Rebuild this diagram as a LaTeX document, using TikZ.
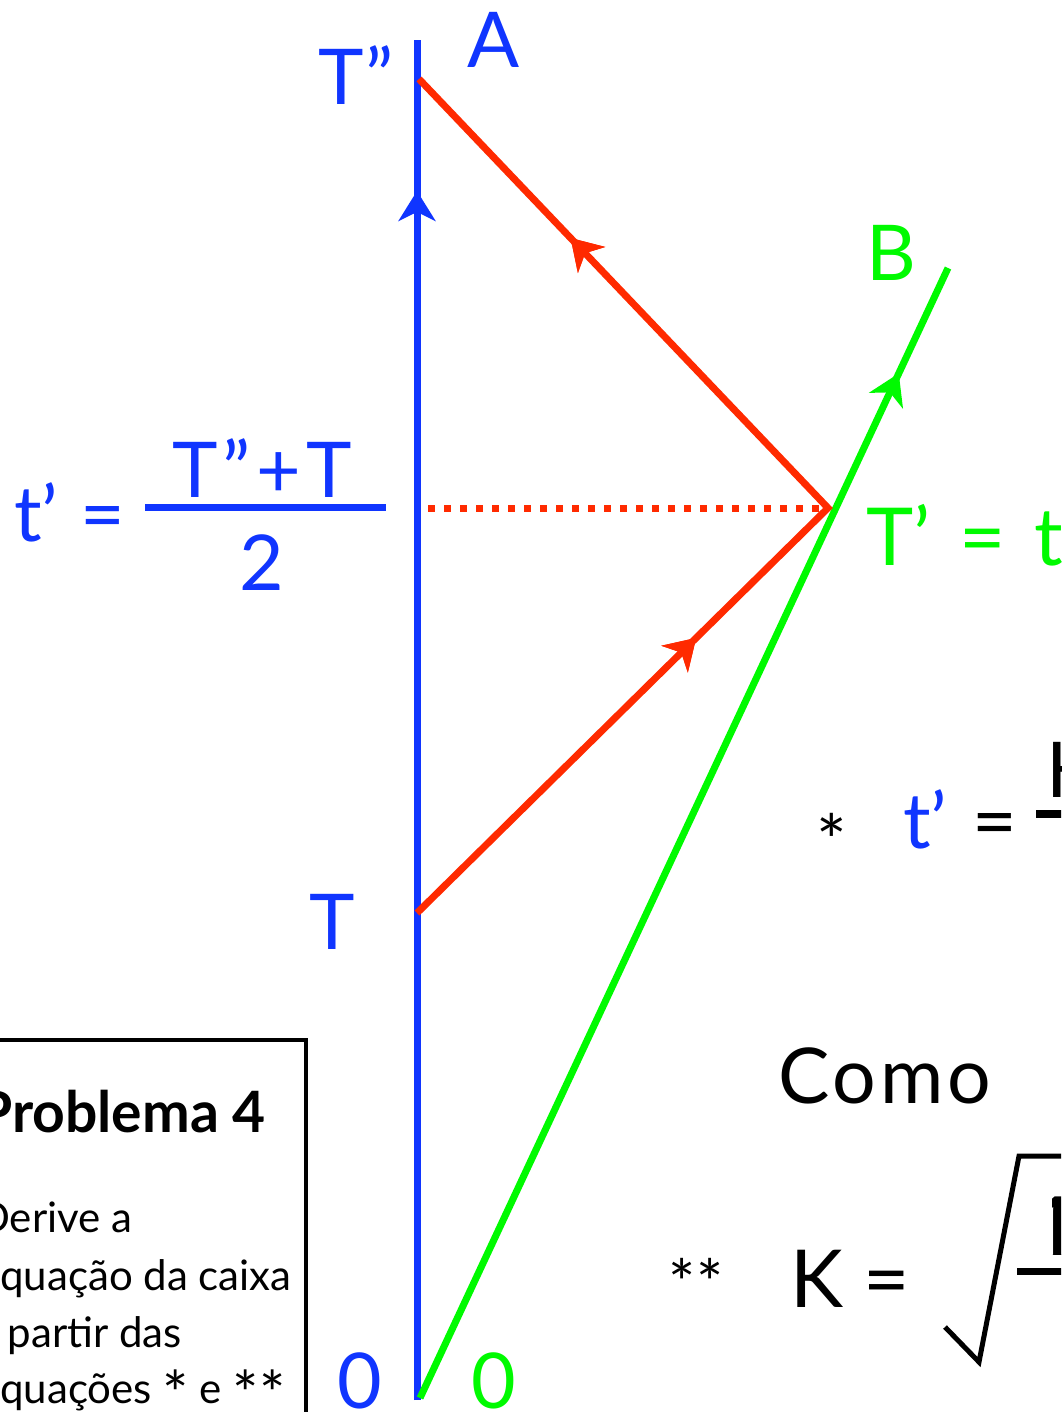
\documentclass[tikz,border=0pt]{standalone}
\usepackage{fontspec}
\setmainfont{Lato}
\usetikzlibrary{arrows.meta,decorations.markings}
\definecolor{cblue}{RGB}{16,53,255}
\definecolor{cred}{RGB}{255,42,0}
\definecolor{cgreen}{RGB}{0,250,0}
\newcommand\boxast{{\fontsize{62}{48}\selectfont\raisebox{-13pt}{*}}}
\tikzset{
  big/.style={inner sep=0pt, font=\fontsize{77}{80}\selectfont},
  astnode/.style={inner sep=0pt, font=\fontsize{72}{72}\selectfont},
  boxline/.style={inner sep=0pt, anchor=base west, font=\fontsize{42}{48}\selectfont},
  world/.style={line width=7pt},
  arrowat/.style={postaction={decorate}, decoration={markings, mark=at position #1 with {\arrow{Stealth[length=30pt,width=37pt,inset=9pt]}}}},
}
\begin{document}
\begin{tikzpicture}[x=1pt,y=-1pt]
\useasboundingbox (0,0) rectangle (1061,1412);
\clip (0,0) rectangle (1061,1412);
\fill[white] (0,0) rectangle (1061,1412);

% points
\coordinate (b0) at (417,1400);
\coordinate (btop) at (417,40);
\coordinate (Tp) at (417,913);
\coordinate (Tpp) at (419,79);
\coordinate (Pp) at (828,508);
\coordinate (g0) at (420,1398);
\coordinate (gtop) at (948,268);
\coordinate (d0) at (428,508);
\coordinate (d1) at (823,508);

% world lines
\draw[world, cblue, arrowat=1209pt] (b0) -- (btop);
\draw[world, cgreen, arrowat=1131pt] (g0) -- (gtop);
\draw[world, cred, line join=miter, arrowat=392pt, arrowat=950pt] (Tp) -- (Pp) -- (Tpp);
\draw[cred, line width=7pt, dash pattern=on 7pt off 9pt] (d0) -- (d1);

% labels on diagram
\node[big, text=cblue, anchor=base west] (lTpp) at (318,105) {T\kern2pt”};
\node[big, text=cblue, anchor=base west] (lA) at (467,68) {A};
\node[big, text=cgreen, anchor=base west] (lB) at (866,280) {B};
\node[big, text=cgreen, anchor=base west, font=\fontsize{80}{80}\selectfont] (lTp) at (866,565) {T’\hspace{0.36em}=\hspace{0.36em}t};
\node[big, text=cblue, anchor=base west] (lT) at (309,949) {T};
\node[big, text=cblue, anchor=base] (z1) at (360,1408) {0};
\node[big, text=cgreen, anchor=base] (z2) at (494,1408) {0};

% t' = (T''+T)/2
\node[big, text=cblue, anchor=base west] (ltp) at (14,541) {t’ \kern3pt=};
\node[big, text=cblue, anchor=base, font=\fontsize{77}{80}\selectfont\addfontfeature{LetterSpace=7}] (num) at (262,497) {T”+T};
\coordinate (fb0) at (145,507);
\coordinate (fb1) at (386,507);
\draw[cblue, line width=7pt] (fb0) -- (fb1);
\node[big, text=cblue, anchor=base] (den) at (262,590) {2};

% equation *
\node[astnode] (st1) at (832,840) {*};
\node[big, text=cblue, anchor=base west] (ltp2) at (903,848) {t’};
\node[big, anchor=base] (eq2) at (995,848) {=};
\coordinate (fc0) at (1036,814);
\coordinate (fc1) at (1075,814);
\draw[line width=8pt] (fc0) -- (fc1);
\node[big, anchor=base west] (n1) at (1046,797) {K²+1};

% Como
\node[big, anchor=base west, font=\fontsize{77}{80}\selectfont\addfontfeature{LetterSpace=5}] (como) at (778,1103) {Como};

% equation **
\node[astnode, font=\fontsize{64}{64}\selectfont] (st2) at (696,1282) {**};
\node[big, anchor=base west, font=\fontsize{80}{80}\selectfont] (lK) at (790,1307) {K =};
\coordinate (r0) at (945,1327);
\coordinate (r1) at (979,1362);
\coordinate (r2) at (1019,1156);
\coordinate (r3) at (1075,1156);
\draw[line width=5pt, line join=miter] (r0) -- (r1) -- (r2) -- (r3);
\coordinate (fd0) at (1017,1271);
\coordinate (fd1) at (1075,1271);
\draw[line width=7pt] (fd0) -- (fd1);
\begin{scope}
\clip (1052,1150) rectangle (1070,1254);
\node[big, anchor=base west, font=\fontsize{90}{90}\selectfont] (n2) at (1028,1261) {1+v};
\end{scope}

% problem box
\coordinate (bx0) at (-20,1040);
\coordinate (bx1) at (306,1440);
\draw[line width=4pt] (bx0) rectangle (bx1);
\node[inner sep=0pt, anchor=base west, font=\fontsize{57}{60}\selectfont\bfseries] (prob) at (-23,1132) {Problema 4};
\node[boxline] (l1) at (-22,1232) {Derive a};
\node[boxline] (l2) at (-22,1290) {equação da caixa};
\node[boxline] (l3) at (-24,1347) {a partir das};
\node[boxline] (l4) at (-22,1403) {equações \boxast{} e \boxast\boxast};
\end{tikzpicture}
\end{document}
